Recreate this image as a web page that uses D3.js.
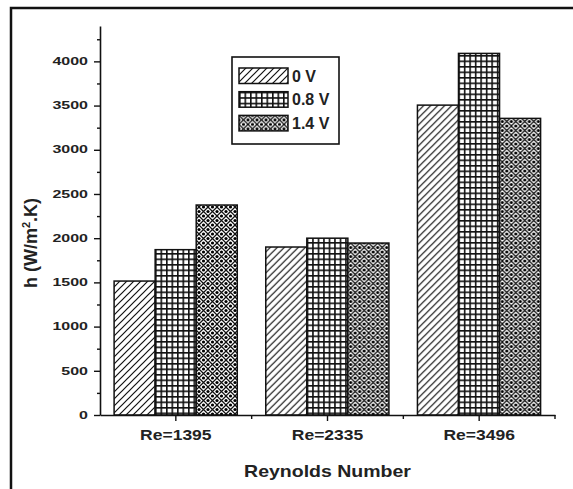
<!DOCTYPE html>
<html>
<head>
<meta charset="utf-8">
<script src="https://cdn.jsdelivr.net/npm/d3@7"></script>
<style>
  html, body { margin: 0; padding: 0; background: #fff; }
  svg { display: block; }
  text { font-family: "Liberation Sans", Arial, sans-serif; font-weight: bold; fill: #222; }
</style>
</head>
<body>
<svg id="chart" width="573" height="489"></svg>
<script>
// Heat transfer coefficient at three Reynolds numbers for three applied voltages
const categories = ["Re=1395", "Re=2335", "Re=3496"];
const seriesNames = ["0 V", "0.8 V", "1.4 V"];
const h0V  = [1515, 1900, 3505];
const h08V = [1870, 2000, 4090];
const h14V = [2375, 1945, 3355];
const yMajorTicks = [0, 500, 1000, 1500, 2000, 2500, 3000, 3500, 4000];
const yMinorTicks = [250, 750, 1250, 1750, 2250, 2750, 3250, 3750, 4250];
const yMax = 4400;
const xTitle = "Reynolds Number";

const series = [h0V, h08V, h14V];
const patternIds = ["hatch", "grid", "cross"];

const svg = d3.select("#chart");
const W = 573, H = 489;
const plot = { left: 100, right: 555, top: 26, bottom: 415 };

svg.append("rect").attr("width", W).attr("height", H).attr("fill", "#fff");

// fill patterns
const defs = svg.append("defs");
const hp = defs.append("pattern").attr("id", "hatch").attr("patternUnits", "userSpaceOnUse")
  .attr("width", 7).attr("height", 7);
hp.append("rect").attr("width", 7).attr("height", 7).attr("fill", "#fff");
hp.append("path").attr("d", "M-1,1 l2,-2 M0,7 l7,-7 M6,8 l2,-2")
  .attr("stroke", "#111").attr("stroke-width", 1.2);

const gp = defs.append("pattern").attr("id", "grid").attr("patternUnits", "userSpaceOnUse")
  .attr("width", 5.5).attr("height", 5.5);
gp.append("rect").attr("width", 5.5).attr("height", 5.5).attr("fill", "#fff");
gp.append("path").attr("d", "M0.8,0 V5.5 M0,0.8 H5.5")
  .attr("stroke", "#111").attr("stroke-width", 1.6);

const cp = defs.append("pattern").attr("id", "cross").attr("patternUnits", "userSpaceOnUse")
  .attr("width", 9).attr("height", 9);
cp.append("rect").attr("width", 9).attr("height", 9).attr("fill", "#fff");
cp.append("path").attr("d", "M0,0 L9,9 M9,0 L0,9")
  .attr("stroke", "#111").attr("stroke-width", 1.25);
[[4.5, 0], [0, 4.5], [9, 4.5], [4.5, 9]].forEach(([cx, cy]) =>
  cp.append("circle").attr("cx", cx).attr("cy", cy).attr("r", 1.6).attr("fill", "#000"));

// scales
const x = d3.scaleBand().domain(categories).range([plot.left, plot.right]).padding(0);
const bw = x.bandwidth();
const x1 = d3.scaleBand().domain(seriesNames).range([bw * 0.093, bw * 0.905]).padding(0);
const y = d3.scaleLinear().domain([0, yMax]).range([plot.bottom, plot.top]);

// outer frame (top and left edges)
svg.append("path").attr("d", `M11,${H} V8 H${W}`)
  .attr("fill", "none").attr("stroke", "#111").attr("stroke-width", 2.5);

// bars
const groups = svg.append("g").selectAll("g").data(categories).join("g")
  .attr("transform", d => `translate(${x(d)},0)`);
groups.selectAll("rect")
  .data((c, ci) => seriesNames.map((s, si) => ({ s, si, v: series[si][ci] })))
  .join("rect")
  .attr("x", d => x1(d.s))
  .attr("width", x1.bandwidth())
  .attr("y", d => y(d.v))
  .attr("height", d => y(0) - y(d.v))
  .attr("fill", d => `url(#${patternIds[d.si]})`)
  .attr("stroke", "#111").attr("stroke-width", 1.5);

// horizontally widened text helper
function widen(sel, sx) {
  sel.each(function () {
    const t = d3.select(this);
    const xx = +t.attr("x") || 0;
    t.attr("x", xx / sx).attr("transform", `scale(${sx},1)`);
  });
}

// y axis
const yAxis = svg.append("g").attr("transform", `translate(${plot.left},0)`)
  .call(d3.axisLeft(y).tickValues(yMajorTicks).tickFormat(d3.format("d"))
    .tickSize(6).tickSizeOuter(0).tickPadding(6));
yAxis.select(".domain").attr("stroke", "#111").attr("stroke-width", 1.6);
yAxis.selectAll(".tick line").attr("stroke", "#111").attr("stroke-width", 1.4);
yAxis.selectAll(".tick text").attr("font-size", 10).attr("fill", "#333")
  .style("font-family", "'Liberation Sans', Arial, sans-serif").style("font-weight", "bold")
  .call(widen, 1.6);
const yMinor = svg.append("g").attr("transform", `translate(${plot.left},0)`)
  .call(d3.axisLeft(y).tickValues(yMinorTicks).tickSize(3).tickFormat(""));
yMinor.select(".domain").remove();
yMinor.selectAll(".tick line").attr("stroke", "#111").attr("stroke-width", 1.4);

// x axis
const xAxis = svg.append("g").attr("transform", `translate(0,${plot.bottom})`)
  .call(d3.axisBottom(x).tickSize(6).tickSizeOuter(0).tickPadding(9));
xAxis.select(".domain").attr("stroke", "#111").attr("stroke-width", 1.6);
xAxis.selectAll(".tick line").attr("stroke", "#111").attr("stroke-width", 1.4);
xAxis.selectAll(".tick text").attr("font-size", 14).attr("fill", "#333")
  .style("font-family", "'Liberation Sans', Arial, sans-serif").style("font-weight", "bold")
  .call(widen, 1.25);
// minor ticks at category boundaries
const bounds = categories.slice(1).map(c => x(c)).concat([plot.right]);
svg.append("g").selectAll("line").data(bounds).join("line")
  .attr("x1", d => d).attr("x2", d => d)
  .attr("y1", plot.bottom).attr("y2", plot.bottom + 4)
  .attr("stroke", "#111").attr("stroke-width", 1.4);

// axis titles
svg.append("text")
  .attr("transform", `translate(${(plot.left + plot.right) / 2},477) scale(1.22,1)`)
  .attr("text-anchor", "middle").attr("font-size", 16).attr("fill", "#333").text(xTitle);

const yTitle = svg.append("text")
  .attr("transform", `translate(37,243) rotate(-90)`)
  .attr("text-anchor", "middle").attr("font-size", 18).attr("fill", "#333");
yTitle.append("tspan").text("h (W/m");
yTitle.append("tspan").attr("dy", -7).attr("font-size", 11).text("2");
yTitle.append("tspan").attr("dy", 7).text(".K)");

// legend
const lg = svg.append("g").attr("transform", "translate(232,57)");
lg.append("rect").attr("width", 107).attr("height", 87)
  .attr("fill", "#fff").attr("stroke", "#111").attr("stroke-width", 1.6);
const rows = lg.selectAll("g.row").data(seriesNames).join("g").attr("class", "row")
  .attr("transform", (d, i) => `translate(7,${11 + i * 23.7})`);
rows.append("rect").attr("width", 49).attr("height", 15.5)
  .attr("fill", (d, i) => `url(#${patternIds[i]})`)
  .attr("stroke", "#111").attr("stroke-width", 1.5);
rows.append("text").attr("x", 53).attr("y", 13.5).attr("font-size", 16).attr("fill", "#333").text(d => d);
</script>
</body>
</html>
